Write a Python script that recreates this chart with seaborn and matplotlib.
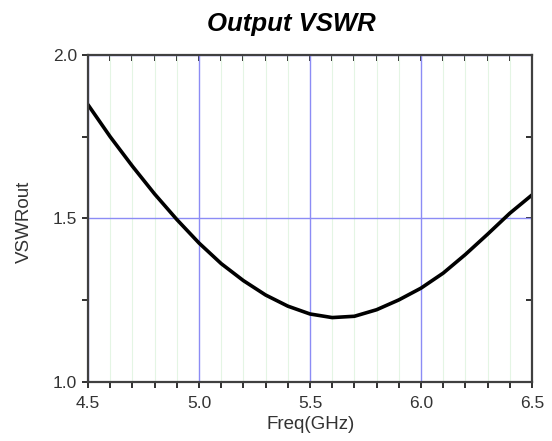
import matplotlib

matplotlib.use("Agg")

import matplotlib.pyplot as plt
import pandas as pd
import seaborn as sns
from matplotlib.ticker import MultipleLocator

freq_ghz = [4.5, 4.6, 4.7, 4.8, 4.9, 5.0, 5.1, 5.2, 5.3, 5.4, 5.5,
            5.6, 5.7, 5.8, 5.9, 6.0, 6.1, 6.2, 6.3, 6.4, 6.5]
vswr_out = [1.848, 1.750, 1.660, 1.575, 1.497, 1.425, 1.362, 1.310, 1.266, 1.232, 1.208,
            1.197, 1.201, 1.221, 1.251, 1.287, 1.333, 1.390, 1.452, 1.516, 1.572]

sns.set_theme(style="white")
plt.rcParams["font.family"] = ["Liberation Sans", "DejaVu Sans"]

df = pd.DataFrame({"freq": freq_ghz, "vswr": vswr_out})

fig = plt.figure(figsize=(5.52, 4.41), dpi=100)
ax = fig.add_axes([0.1594, 0.1338, 0.8044, 0.7415])

sns.lineplot(data=df, x="freq", y="vswr", ax=ax, color="black", linewidth=2.6)

ax.set_xlim(4.5, 6.5)
ax.set_ylim(1.0, 2.0)
ax.xaxis.set_major_locator(MultipleLocator(0.5))
ax.xaxis.set_minor_locator(MultipleLocator(0.1))
ax.yaxis.set_major_locator(MultipleLocator(0.5))
ax.yaxis.set_minor_locator(MultipleLocator(0.25))
ax.xaxis.set_major_formatter(plt.FormatStrFormatter("%.1f"))
ax.yaxis.set_major_formatter(plt.FormatStrFormatter("%.1f"))

ax.grid(True, which="major", color="#8c8cf5", linewidth=1.0)
ax.grid(True, which="minor", axis="x", color="#e4f5e4", linewidth=0.8)
ax.set_axisbelow(True)

for side in ax.spines.values():
    side.set_color("#404040")
    side.set_linewidth(1.6)

ax.tick_params(axis="both", which="both", direction="out", length=4, width=1.4,
               color="#303030", labelsize=12.5, labelcolor="#333333",
               bottom=True, left=True)
ax.tick_params(axis="x", which="major", pad=6)
ax.tick_params(axis="y", which="major", pad=4)

top = ax.secondary_xaxis("top")
top.xaxis.set_major_locator(MultipleLocator(0.1))
top.tick_params(direction="in", length=4, width=1.4, color="#303030", labeltop=False)
right = ax.secondary_yaxis("right")
right.yaxis.set_major_locator(MultipleLocator(0.25))
right.tick_params(direction="in", length=4, width=1.4, color="#303030", labelright=False)

ax.set_xlabel("Freq(GHz)", fontsize=13.5, color="#333333", va="center")
ax.xaxis.set_label_coords(0.502, -0.1315)
ax.set_ylabel("VSWRout", fontsize=13.5, color="#333333", va="center")
ax.yaxis.set_label_coords(-0.144, 0.489)
ax.set_title("Output VSWR", fontsize=18.5, fontweight="bold", fontstyle="italic",
             color="black", x=0.457, y=1.095, va="center", pad=0)

fig.savefig("out.png", dpi=100)
plt.close(fig)
